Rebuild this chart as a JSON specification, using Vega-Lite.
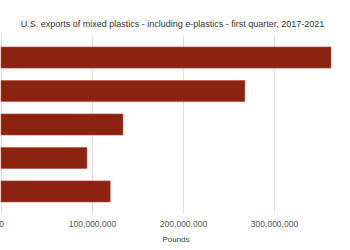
{
  "$schema": "https://vega.github.io/schema/vega-lite/v6.json",
  "autosize": "none",
  "width": 349,
  "height": 177,
  "padding": {"left": 1, "top": 36, "right": 0, "bottom": 37},
  "background": "white",
  "title": {
    "text": "U.S. exports of mixed plastics - including e-plastics - first quarter, 2017-2021",
    "font": "Liberation Sans",
    "fontSize": 9,
    "fontWeight": "normal",
    "color": "#333333",
    "anchor": "middle",
    "dx": -3,
    "offset": 7
  },
  "data": {
    "values": [
      {"year": "2017", "pounds": 362600000},
      {"year": "2018", "pounds": 268000000},
      {"year": "2019", "pounds": 134000000},
      {"year": "2020", "pounds": 94500000},
      {"year": "2021", "pounds": 120000000}
    ]
  },
  "config": {"view": {"stroke": null}},
  "mark": {"type": "bar", "color": "#8a2411", "stroke": "#b5483a", "strokeWidth": 0.6},
  "encoding": {
    "y": {
      "field": "year",
      "type": "nominal",
      "sort": null,
      "axis": null,
      "scale": {"paddingInner": 0.37, "paddingOuter": 0.33}
    },
    "x": {
      "field": "pounds",
      "type": "quantitative",
      "scale": {"domain": [0, 383500000], "nice": false},
      "axis": {
        "values": [0, 100000000, 200000000, 300000000],
        "format": ",d",
        "title": "Pounds",
        "titleFont": "Liberation Sans",
        "titleFontSize": 8,
        "titleFontWeight": "normal",
        "titleColor": "#444444",
        "titlePadding": 8,
        "labelFont": "Liberation Sans",
        "labelFontSize": 8.5,
        "labelColor": "#555555",
        "labelPadding": 6,
        "labelFlush": false,
        "domain": false,
        "ticks": false,
        "gridColor": "#dddddd",
        "gridWidth": 1
      }
    }
  }
}
